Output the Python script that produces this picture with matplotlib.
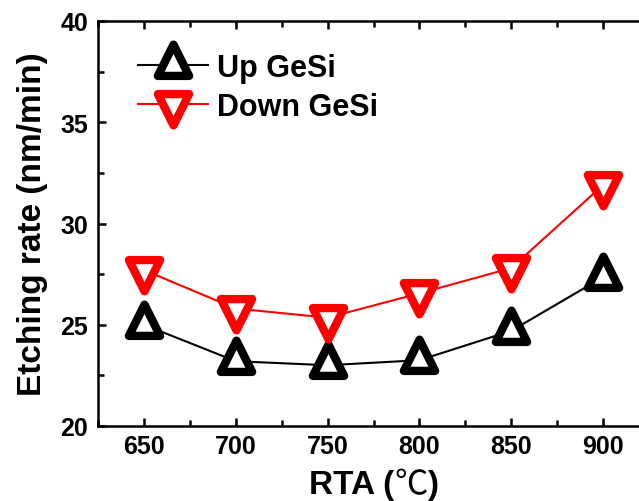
import matplotlib
matplotlib.use("Agg")
import matplotlib.pyplot as plt
from matplotlib.ticker import MultipleLocator
from matplotlib.path import Path
from matplotlib.markers import MarkerStyle

rta = [650, 700, 750, 800, 850, 900]
up_gesi = [25.0, 23.2, 23.0, 23.25, 24.7, 27.35]
down_gesi = [27.7, 25.8, 25.35, 26.55, 27.8, 31.9]

plt.rcParams['font.family'] = ['Liberation Sans', 'Noto Sans CJK SC', 'DejaVu Sans']
plt.rcParams['font.weight'] = 'bold'

# triangles centred on their centroid (as in Origin)
up_tri = MarkerStyle(Path([(0, 4/3), (-1, -2/3), (1, -2/3), (0, 4/3)],
                          [Path.MOVETO, Path.LINETO, Path.LINETO, Path.CLOSEPOLY]),
                     joinstyle='round')
down_tri = MarkerStyle(Path([(0, -4/3), (-1, 2/3), (1, 2/3), (0, -4/3)],
                            [Path.MOVETO, Path.LINETO, Path.LINETO, Path.CLOSEPOLY]),
                       joinstyle='round')

fig = plt.figure(figsize=(6.39, 5.02), dpi=100)
ax = fig.add_axes([98/639, 1-427/502, (649-98)/639, (427-22)/502])

ax.plot(rta, up_gesi, color='black', lw=1.5, marker=up_tri, ms=30, mew=6,
        mfc='white', mec='black', label='Up GeSi')
ax.plot(rta, down_gesi, color='red', lw=1.5, marker=down_tri, ms=30, mew=6,
        mfc='white', mec='red', label='Down GeSi')

ax.set_xlim(625, 925)
ax.set_ylim(20, 40)
ax.xaxis.set_major_locator(MultipleLocator(50))
ax.xaxis.set_minor_locator(MultipleLocator(25))
ax.yaxis.set_major_locator(MultipleLocator(5))
ax.yaxis.set_minor_locator(MultipleLocator(2.5))
ax.tick_params(which='both', direction='in', top=True, right=True, width=1.8,
               labelsize=18)
ax.tick_params(axis='x', which='both', pad=6)
ax.tick_params(axis='y', which='both', pad=7)
ax.tick_params(which='major', length=6)
ax.tick_params(which='minor', length=4)
for s in ax.spines.values():
    s.set_linewidth(1.8)
for lab in ax.get_xticklabels() + ax.get_yticklabels():
    lab.set_fontweight('bold')

ax.set_ylabel('Etching rate (nm/min)', fontsize=24, fontweight='bold')
ax.yaxis.set_label_coords((48 - 98) / 551, 0.5)

leg = ax.legend(loc='upper left', frameon=False, markerscale=1.0,
                prop={'size': 22, 'weight': 'bold'}, handlelength=2.3,
                handletextpad=0.3, borderaxespad=0, borderpad=0,
                labelspacing=0.3,
                bbox_to_anchor=(40/551, 1 - 32/405))

# x label: bold "RTA ( )" with a regular-weight ℃ sign
fig.canvas.draw()
r = fig.canvas.get_renderer()
base_y = 1 - 494/502
parts = [('RTA (', dict(family=['Liberation Sans'], weight='bold')),
         ('℃', dict(family=['Noto Sans CJK SC'], weight='normal')),
         (')', dict(family=['Liberation Sans'], weight='bold'))]
texts = []
for s, kw in parts:
    t = fig.text(0, base_y, s, fontsize=24, va='baseline', ha='left', **kw)
    texts.append(t)
widths = [t.get_window_extent(r).width for t in texts]
total = sum(widths)
x = (98 + 649) / 2 - total / 2
for t, w in zip(texts, widths):
    t.set_x(x / 639)
    x += w

fig.savefig('out.png', dpi=100)
